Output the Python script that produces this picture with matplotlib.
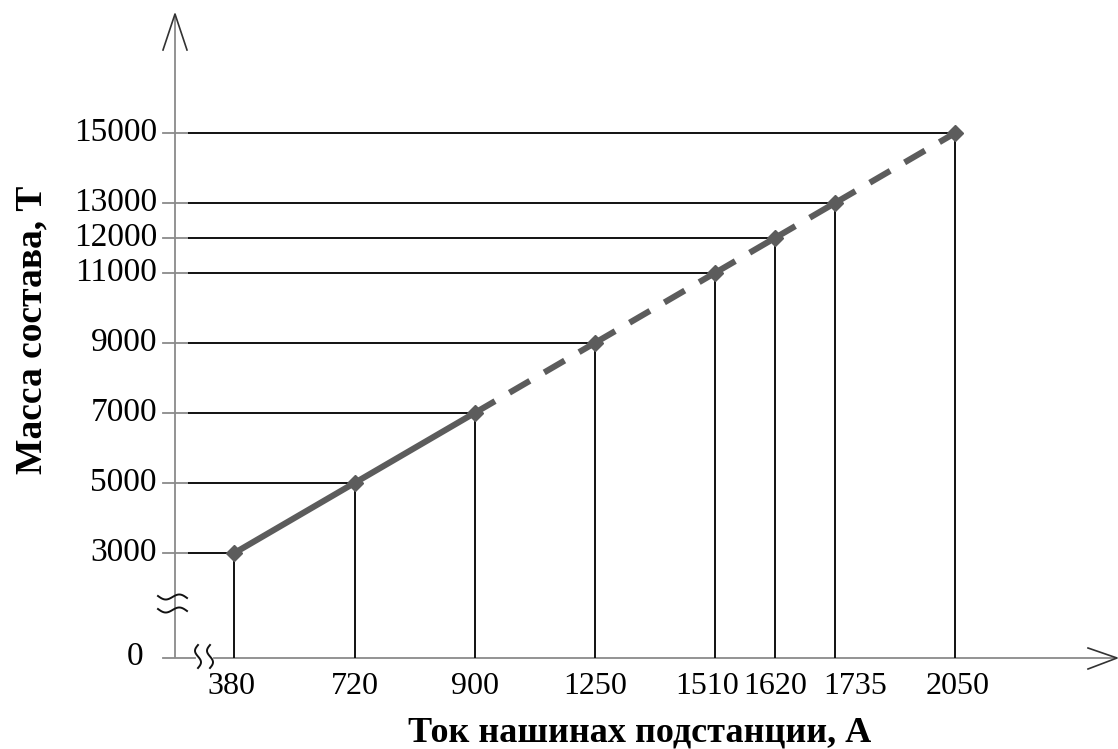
import numpy as np
import matplotlib
matplotlib.use("Agg")
import matplotlib.pyplot as plt
import matplotlib.transforms as mtransforms

# Substation current (A) and train mass (t)
current = [380, 720, 900, 1250, 1510, 1620, 1735, 2050]
mass = [3000, 5000, 7000, 9000, 11000, 12000, 13000, 15000]
x_ticklabels = ["380", "720", "900", "1250", "1510", "1620", "1735", "2050"]
y_ticklabels = ["3000", "5000", "7000", "9000", "11000", "12000", "13000", "15000"]
x_title = "Ток нашинах подстанции, А"
y_title = "Масса состава, Т"

plt.rcParams["font.family"] = ["Liberation Serif", "DejaVu Serif"]
plt.rcParams["lines.scale_dashes"] = False

W, H = 1118, 749
fig = plt.figure(figsize=(W / 100, H / 100), dpi=100)
ax = fig.add_axes([0, 0, 1, 1])
ax.set_axis_off()

# The current axis is not uniform: each current sits where its mass would be,
# so the characteristic is drawn through a piecewise-linear function scale.
cur = np.asarray(current, float)
ms = np.asarray(mass, float)
s_lo = (ms[1] - ms[0]) / (cur[1] - cur[0])
s_hi = (ms[-1] - ms[-2]) / (cur[-1] - cur[-2])


def fwd(x):
    x = np.asarray(x, float)
    u = np.interp(x, cur, ms)
    u = np.where(x < cur[0], ms[0] + (x - cur[0]) * s_lo, u)
    u = np.where(x > cur[-1], ms[-1] + (x - cur[-1]) * s_hi, u)
    return u


def inv(u):
    u = np.asarray(u, float)
    x = np.interp(u, ms, cur)
    x = np.where(u < ms[0], cur[0] + (u - ms[0]) / s_lo, x)
    x = np.where(u > ms[-1], cur[-1] + (u - ms[-1]) / s_hi, x)
    return x


ax.set_xscale("function", functions=(fwd, inv))
ax.set_xlim(float(inv(-902.5)), float(inv(17712.0)))
ax.set_ylim(-2600, 18800)


def P(x, y):
    """Pixel position (from the top-left corner) -> axes fraction."""
    return x / W, 1 - y / H


axis_col = "#8a8a8a"
ink = "#111111"
curve_col = "#5c5c5c"

# axes lines
x0, _ = P(175, 0)
ax.plot([x0, x0], [P(0, 658)[1], P(0, 14)[1]], color=axis_col, lw=1.3,
        transform=ax.transAxes, solid_capstyle="butt")
yax = P(0, 658)[1]
ax.plot([P(163, 0)[0], P(195, 0)[0]], [yax, yax], color=axis_col, lw=1.3,
        transform=ax.transAxes)
ax.plot([P(214, 0)[0], P(1116, 0)[0]], [yax, yax], color=axis_col, lw=1.3,
        transform=ax.transAxes)

# open arrow heads
ax.plot([P(163, 50)[0], P(175, 14)[0], P(187, 50)[0]],
        [P(163, 50)[1], P(175, 14)[1], P(187, 50)[1]],
        color="#333333", lw=1.2, transform=ax.transAxes)
ax.plot([P(1088, 648)[0], P(1117, 658)[0], P(1088, 669)[0]],
        [P(1088, 648)[1], P(1117, 658)[1], P(1088, 669)[1]],
        color="#333333", lw=1.2, transform=ax.transAxes)

# axis break marks
t = np.linspace(0, 1, 40)
for yc in (597, 610):
    xs = 158 + 29 * t
    ys = yc + 3.0 * np.sin(2 * np.pi * t) + 2 * (t - 0.5)
    pts = np.array([P(a, b) for a, b in zip(xs, ys)])
    ax.plot(pts[:, 0], pts[:, 1], color=ink, lw=1.4, transform=ax.transAxes)
for xc in (198, 210):
    ys = 645 + 23 * t
    xs = xc - 3.0 * np.sin(2 * np.pi * t)
    pts = np.array([P(a, b) for a, b in zip(xs, ys)])
    ax.plot(pts[:, 0], pts[:, 1], color=ink, lw=1.4, transform=ax.transAxes)

# y ticks and reference lines to each point
ty = mtransforms.blended_transform_factory(ax.transAxes, ax.transData)
tx = mtransforms.blended_transform_factory(ax.transData, ax.transAxes)
for m in mass:
    ax.plot([P(163, 0)[0], P(188, 0)[0]], [m, m], color=axis_col, lw=1.3,
            transform=ty)
x_start = ax.transData.inverted().transform(ax.transAxes.transform((188 / W, 0)))[0]
ax.hlines(mass, x_start, current, color=ink, lw=1.4)
ax.vlines(current, 0, mass, color=ink, lw=1.4)

# characteristic: measured part solid, extrapolated part dashed
ax.plot(current[:3], mass[:3], color=curve_col, lw=4.4, solid_capstyle="butt",
        zorder=3)
for i in range(2, len(current) - 1):
    ax.plot(current[i:i + 2], mass[i:i + 2], color=curve_col, lw=4.4,
            linestyle=(0, (17, 12)), dash_capstyle="butt", zorder=3)
ax.plot(current, mass, linestyle="none", marker="D", ms=8, color=curve_col,
        zorder=4)

# tick labels
for m, lab in zip(mass, y_ticklabels):
    ax.text(P(157, 0)[0], m, lab, transform=ty, ha="right", va="center",
            fontsize=24, color="black")
ax.text(*P(143, 657), "0", transform=ax.transAxes, ha="right", va="center",
        fontsize=24, color="black")
# crowded labels are nudged sideways (pixels) so they stay readable
nudge = {"380": -3, "1510": -8, "1735": 20, "2050": 3}
for c, lab in zip(current, x_ticklabels):
    ax.annotate(lab, xy=(c, P(0, 686)[1]), xycoords=tx,
                xytext=(nudge.get(lab, 0), 0), textcoords="offset pixels",
                ha="center", va="center", fontsize=23, color="black")

# axis titles
ax.text(*P(32, 330), y_title, transform=ax.transAxes, rotation=90,
        ha="center", va="center", fontsize=27, fontweight="bold")
ax.text(*P(640, 742), x_title, transform=ax.transAxes, ha="center",
        va="baseline", fontsize=26, fontweight="bold")

fig.savefig("out.png", dpi=100)
